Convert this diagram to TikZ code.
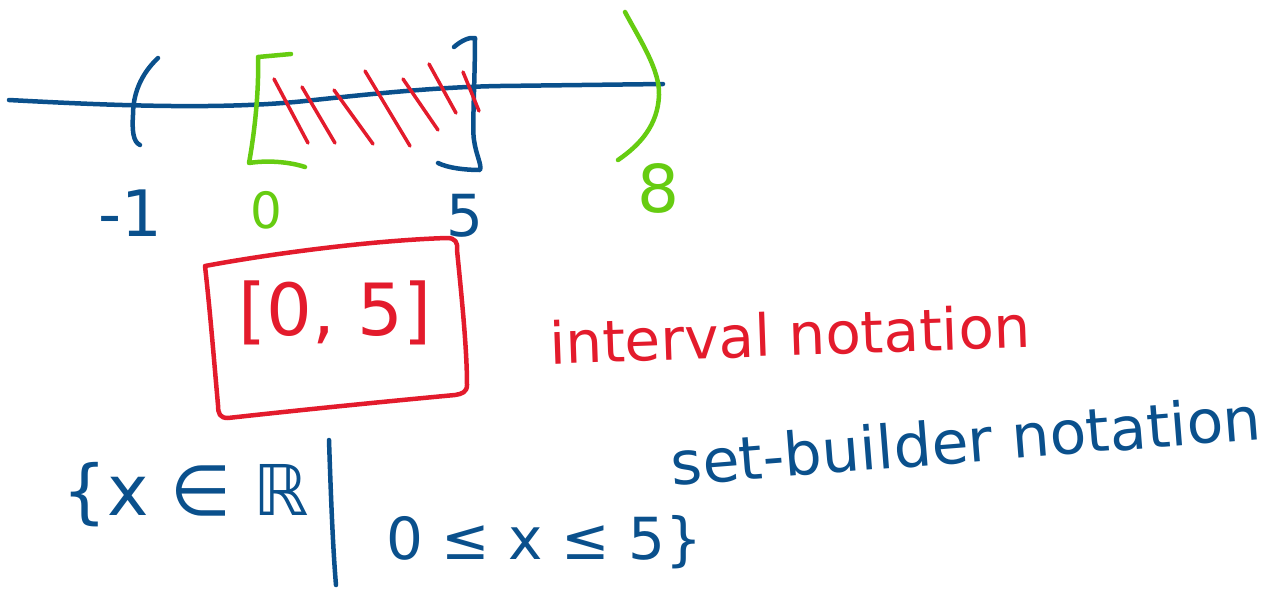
\documentclass[tikz,border=0pt]{standalone}
\usepackage{fontspec}
\setmainfont{DejaVu Sans}
\definecolor{inkblue}{HTML}{0A508C}
\definecolor{inkred}{HTML}{E31B2C}
\definecolor{inkgreen}{HTML}{66CC11}
\tikzset{
  pen/.style={line width=4.5pt, line cap=round, line join=round},
  hatch/.style={pen, draw=inkred, line width=3.5pt},
  lbl/.style={inner sep=0pt, font=\fontsize{#1}{#1}\selectfont},
}
\begin{document}
\begin{tikzpicture}[x=1pt,y=-1pt]
\useasboundingbox (0,0) rectangle (1270,590);
% number line
\draw[pen, inkblue] (9,100) .. controls (120,106) and (230,110) .. (314,100)
  .. controls (380,93) and (440,87) .. (500,86) -- (663,84);
% left paren at -1
\draw[pen, inkblue] (158,58) .. controls (140,75) and (133,95) .. (133,115)
  .. controls (132,130) and (133,142) .. (140,145);
% green bracket at 0
\draw[pen, inkgreen] (291,54) -- (258,57) .. controls (259,90) and (255,130) .. (249,163)
  .. controls (268,160) and (290,162) .. (305,167);
% blue bracket at 5
\draw[pen, inkblue] (454,47) .. controls (462,40) and (470,37) .. (475,38)
  .. controls (475,80) and (472,130) .. (474,140) .. controls (476,155) and (482,165) .. (480,170)
  .. controls (465,170) and (448,168) .. (438,163);
% green paren at 8
\draw[pen, inkgreen] (625,12) .. controls (640,40) and (660,70) .. (659,95)
  .. controls (658,125) and (640,145) .. (618,160);
% hatching
\draw[hatch] (274,79) -- (308,143);
\draw[hatch] (302,87) -- (335,143);
\draw[hatch] (334,90) -- (373,144);
\draw[hatch] (365,71) -- (410,146);
\draw[hatch] (403,79) -- (438,130);
\draw[hatch] (429,64) -- (456,113);
\draw[hatch] (463,72) -- (479,111);
% tick labels
\node[lbl=64, text=inkblue] (lm1) at (130,213) {-1};
\node[lbl=50, text=inkgreen] (l0) at (266,210) {0};
\node[lbl=58, text=inkblue] (l5) at (465,216) {5};
\node[lbl=66, text=inkgreen] (l8) at (658,188) {8};
% red box
\draw[pen, inkred] (205,266) .. controls (280,252) and (380,240) .. (447,238)
  .. controls (455,238) and (458,242) .. (457,250)
  .. controls (462,300) and (467,350) .. (467,385)
  .. controls (467,392) and (462,394) .. (455,395)
  .. controls (380,402) and (300,410) .. (228,418)
  .. controls (220,418) and (218,414) .. (218,405)
  .. controls (214,360) and (210,310) .. (205,266);
\node[lbl=72, text=inkred] (interval) at (335,313) {[0, 5]};
\node[lbl=58, text=inkred, rotate=2] (intlabel) at (790,334) {interval notation};
\node[lbl=60, text=inkblue, rotate=4.5] (setlabel) at (966,440) {set-builder notation};
% set-builder
\node[lbl=70, text=inkblue] (setleft) at (186,495) {\{x ∈ ℝ};
\draw[pen, inkblue] (329,440) .. controls (331,500) and (333,550) .. (336,585);
\node[lbl=58, text=inkblue] (setright) at (544,542) {0 ≤ x ≤ 5\}};
\end{tikzpicture}
\end{document}
